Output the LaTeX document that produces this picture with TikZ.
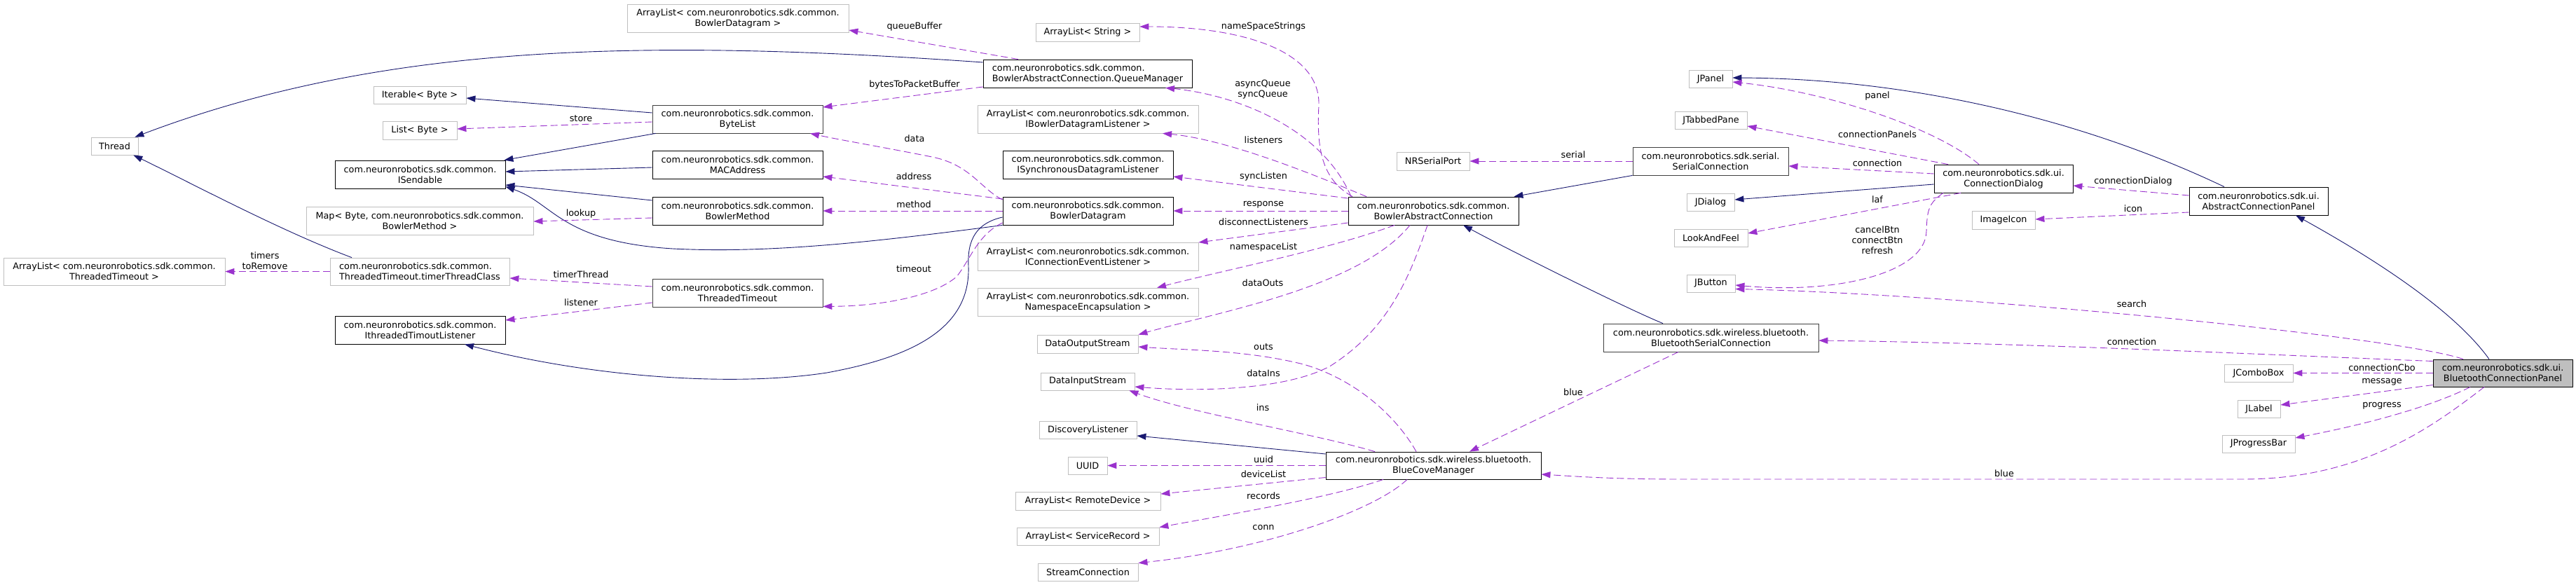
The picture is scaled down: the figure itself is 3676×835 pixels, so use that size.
\documentclass[tikz,border=0pt]{standalone}
\usepackage{fontspec}
\setmainfont{DejaVu Sans}
\usetikzlibrary{arrows.meta}

\definecolor{inhcol}{RGB}{25,25,112}
\definecolor{usecol}{RGB}{154,50,205}
\definecolor{extcol}{RGB}{191,191,191}
\definecolor{doccol}{RGB}{64,64,64}
\newcommand{\dgfont}{\fontsize{12.8pt}{15pt}\selectfont}

\tikzset{
	cls/.style={draw=black,line width=0.8pt,fill=white,inner sep=0pt,align=center,font=\dgfont},
	clsg/.style={cls,draw=doccol},
	ext/.style={cls,draw=extcol},
	root/.style={cls,fill=extcol},
	box/.style 2 args={minimum width=#1pt,minimum height=#2pt},
	lbl/.style={inner sep=0pt,align=center,font=\dgfont},
	inh/.style={draw=inhcol,line width=0.9pt,-{Triangle[length=13pt,width=9pt]}},
	use/.style={draw=usecol,line width=0.9pt,dash pattern=on 10pt off 5pt,-{Triangle[length=13pt,width=9pt]}},
}

\begin{document}
\begin{tikzpicture}[x=1pt,y=-1pt]
	
	\fill[white] (0,0) rectangle (3676,835);
	\useasboundingbox (0,0) rectangle (3676,835);
	
	%%%%%%%%%%%%%%%%%%%%%%%%%%%%%%%%%%%%%%%%%%%%%%%%%%%%%%
	
	\node [ext,box={67}{25}] (thread) at (163.5,208.5) {Thread};
	\node [ext,box={316}{39}] (alTimeout) at (163,387.5) {ArrayList< com.neuronrobotics.sdk.common.\\ThreadedTimeout >};
	
	\node [ext,box={132}{25}] (iterable) at (599,135.5) {Iterable< Byte >};
	\node [ext,box={106}{26}] (listByte) at (599,186) {List< Byte >};
	\node [cls,box={243}{40}] (isendable) at (599.5,249) {com.neuronrobotics.sdk.common.\\ISendable};
	\node [ext,box={324}{40}] (mapMethod) at (599,315) {Map< Byte, com.neuronrobotics.sdk.common.\\BowlerMethod >};
	\node [ext,box={256}{39},align=left] (timerClass) at (599,387.5) {com.neuronrobotics.sdk.common.\\ThreadedTimeout.timerThreadClass};
	\node [cls,box={243}{40}] (itimeoutListener) at (599.5,471) {com.neuronrobotics.sdk.common.\\IthreadedTimoutListener};
	
	\node [ext,box={316}{40}] (alDatagram) at (1053,26) {ArrayList< com.neuronrobotics.sdk.common.\\BowlerDatagram >};
	\node [clsg,box={243}{40}] (bytelist) at (1052.5,170) {com.neuronrobotics.sdk.common.\\ByteList};
	\node [cls,box={243}{40}] (macaddr) at (1052.5,235) {com.neuronrobotics.sdk.common.\\MACAddress};
	\node [cls,box={243}{40}] (bmethod) at (1052.5,301) {com.neuronrobotics.sdk.common.\\BowlerMethod};
	\node [clsg,box={243}{40}] (ttimeout) at (1052.5,418) {com.neuronrobotics.sdk.common.\\ThreadedTimeout};
	
	%%%%%%%%%%%%%%%%%%%%%%%%%%%%%%%%%%%%%%%%%%%%%%%%%%%%%%
	
	\node [ext,box={148}{26}] (alString) at (1552,46) {ArrayList< String >};
	\node [cls,box={298}{40},align=left] (qmgr) at (1552,105) {com.neuronrobotics.sdk.common.\\BowlerAbstractConnection.QueueManager};
	\node [ext,box={315}{40}] (alDgListener) at (1552.5,170) {ArrayList< com.neuronrobotics.sdk.common.\\IBowlerDatagramListener >};
	\node [cls,box={243}{40}] (isyncListener) at (1552.5,235) {com.neuronrobotics.sdk.common.\\ISynchronousDatagramListener};
	\node [cls,box={243}{40}] (bdatagram) at (1552.5,301) {com.neuronrobotics.sdk.common.\\BowlerDatagram};
	\node [ext,box={315}{40}] (alConnListener) at (1552.5,366) {ArrayList< com.neuronrobotics.sdk.common.\\IConnectionEventListener >};
	\node [ext,box={315}{40}] (alNamespace) at (1552.5,431) {ArrayList< com.neuronrobotics.sdk.common.\\NamespaceEncapsulation >};
	\node [ext,box={144}{26}] (dataOut) at (1552,491) {DataOutputStream};
	\node [ext,box={134}{25}] (dataIn) at (1552,544.5) {DataInputStream};
	\node [ext,box={139}{25}] (discovery) at (1552.5,613.5) {DiscoveryListener};
	\node [ext,box={56}{25}] (uuid) at (1552,664.5) {UUID};
	\node [ext,box={207}{26}] (alRemote) at (1552.5,715) {ArrayList< RemoteDevice >};
	\node [ext,box={203}{25}] (alService) at (1552.5,765.5) {ArrayList< ServiceRecord >};
	\node [ext,box={143}{25}] (streamConn) at (1552.5,816.5) {StreamConnection};
	
	%%%%%%%%%%%%%%%%%%%%%%%%%%%%%%%%%%%%%%%%%%%%%%%%%%%%%%
	
	\node [ext,box={104}{26}] (nrSerial) at (2045,230) {NRSerialPort};
	\node [cls,box={243}{40}] (bac) at (2045.5,301) {com.neuronrobotics.sdk.common.\\BowlerAbstractConnection};
	\node [cls,box={307}{39}] (bcm) at (2045.5,664.5) {com.neuronrobotics.sdk.wireless.bluetooth.\\BlueCoveManager};
	
	\node [ext,box={62}{25}] (jpanel) at (2441,112.5) {JPanel};
	\node [ext,box={103}{25}] (jtabbed) at (2441.5,171.5) {JTabbedPane};
	\node [clsg,box={222}{40}] (serialConn) at (2441,230) {com.neuronrobotics.sdk.serial.\\SerialConnection};
	\node [ext,box={68}{25}] (jdialog) at (2441,288.5) {JDialog};
	\node [ext,box={105}{25}] (laf) at (2441.5,339.5) {LookAndFeel};
	\node [ext,box={69}{25}] (jbutton) at (2441.5,404.5) {JButton};
	\node [clsg,box={307}{40}] (btSerialConn) at (2441.5,482) {com.neuronrobotics.sdk.wireless.bluetooth.\\BluetoothSerialConnection};
	
	\node [cls,box={198}{40}] (connDialog) at (2859,255) {com.neuronrobotics.sdk.ui.\\ConnectionDialog};
	\node [ext,box={90}{26}] (imageIcon) at (2859,314) {ImageIcon};
	
	\node [cls,box={198}{40}] (acPanel) at (3223,287) {com.neuronrobotics.sdk.ui.\\AbstractConnectionPanel};
	\node [ext,box={98}{25}] (jcombo) at (3223,532.5) {JComboBox};
	\node [ext,box={61}{25}] (jlabel) at (3223.5,583.5) {JLabel};
	\node [ext,box={104}{25}] (jprogress) at (3223,633.5) {JProgressBar};
	
	\node [root,box={199}{39}] (btPanel) at (3571.5,532.5) {com.neuronrobotics.sdk.ui.\\BluetoothConnectionPanel};
	
	%%%%%%%%%%%%%%%%%%%%%%%%%%%%%%%%%%%%%%%%%%%%%%%%%%%%%%
	% inheritance
	
	\draw [inh] ([yshift=16pt]qmgr.west) .. controls (903,54) and (540,64) .. ([xshift=-5pt]thread.north east);
	\draw [inh] ([xshift=-97pt]timerClass.north) .. controls (402,330) and (280,265) .. ([xshift=-7pt]thread.south east);
	\draw [inh] ([yshift=9pt]bytelist.west) -- ([yshift=-4.5pt]iterable.east);
	\draw [inh] ([xshift=5pt]bytelist.south west) -- ([xshift=-2pt]isendable.north east);
	\draw [inh] ([yshift=-4pt]macaddr.west) -- ([yshift=4pt]isendable.east);
	\draw [inh] ([yshift=15pt]bmethod.west) -- ([yshift=-15pt]isendable.east);
	\draw [inh] (bdatagram.south west) .. controls (1250,345) and (1100,362) .. (960,355)
	.. controls (800,345) and (790,290) .. ([yshift=3pt]isendable.south east);
	\draw [inh] ([yshift=-9pt]bdatagram.west) .. controls (1395,318) and (1380,340) .. (1382,380)
	.. controls (1385,470) and (1300,510) .. (1180,532)
	.. controls (1050,552) and (850,540) .. ([xshift=63.5pt]itimeoutListener.south);
	\draw [inh] ([yshift=16.5pt]bcm.west) -- ([yshift=-8.5pt]discovery.east);
	\draw [inh] (serialConn.south west) -- ([xshift=-7pt]bac.north east);
	\draw [inh] ([xshift=-68.5pt]btSerialConn.north) .. controls (2320,440) and (2150,355) .. ([xshift=42.5pt]bac.south);
	\draw [inh] ([yshift=-8pt]connDialog.west) -- ([yshift=3.5pt]jdialog.east);
	\draw [inh] ([xshift=-49pt]acPanel.north) .. controls (2950,160) and (2700,112) .. ([yshift=1.5pt]jpanel.east);
	\draw [inh] ([xshift=-19.5pt]btPanel.north) .. controls (3500,440) and (3380,365) .. ([xshift=53pt]acPanel.south);
	
	%%%%%%%%%%%%%%%%%%%%%%%%%%%%%%%%%%%%%%%%%%%%%%%%%%%%%%
	% usage
	
	\draw [use] ([yshift=-4pt]bytelist.west) -- ([yshift=2pt]listByte.east);
	\draw [use] ([yshift=-10pt]bmethod.west) -- ([yshift=-1pt]mapMethod.east);
	\draw [use] ([yshift=-14pt]ttimeout.west) -- ([yshift=14pt]itimeoutListener.east);
	\draw [use] ([yshift=9pt]ttimeout.west) -- ([yshift=-9.5pt]timerClass.east);
	\draw [use] (timerClass.west) -- (alTimeout.east);
	\draw [use] ([xshift=-99pt]qmgr.north) -- ([yshift=-17pt]alDatagram.east);
	\draw [use] ([yshift=-19pt]qmgr.west) -- ([yshift=17pt]bytelist.east);
	\draw [use] ([yshift=17pt]bdatagram.west) -- ([yshift=-17pt]macaddr.east);
	\draw [use] (bdatagram.west) -- (bmethod.east);
	\draw [use] ([yshift=16pt]bdatagram.west) .. controls (1400,270) and (1385,235) .. (1330,224)
	.. controls (1260,210) and (1200,200) .. ([xshift=103.5pt]bytelist.south);
	\draw [use] ([yshift=-17pt]bdatagram.west) .. controls (1395,335) and (1385,370) .. (1365,395)
	.. controls (1330,425) and (1250,437) .. ([yshift=1pt]ttimeout.south east);
	%
	\draw [use] ([xshift=-115.5pt]bac.north) .. controls (1890,258) and (1878,220) .. (1882,150)
	.. controls (1884,70) and (1767,38) .. ([yshift=8pt]alString.east);
	\draw [use] ([xshift=-117.5pt]bac.north) .. controls (1885,180) and (1760,135) .. ([xshift=111pt]qmgr.south);
	\draw [use] ([xshift=-95.5pt]bac.north) .. controls (1900,260) and (1760,200) .. ([xshift=106.5pt]alDgListener.south);
	\draw [use] ([yshift=18pt]bac.west) -- ([yshift=-17pt]isyncListener.east);
	\draw [use] (bac.west) -- (bdatagram.east);
	\draw [use] ([yshift=-17pt]bac.west) -- ([yshift=20pt]alConnListener.east);
	\draw [use] ([xshift=-55.5pt]bac.south) .. controls (1900,355) and (1750,385) .. ([xshift=98.5pt]alNamespace.north);
	\draw [use] ([xshift=-33.5pt]bac.south) .. controls (1940,410) and (1740,445) .. (dataOut.north east);
	\draw [use] ([xshift=-8.5pt]bac.south) .. controls (2010,400) and (1980,470) .. (1899,522)
	.. controls (1840,555) and (1720,560) .. ([yshift=-7.5pt]dataIn.east);
	%
	\draw [use] ([xshift=-24.5pt]bcm.north) .. controls (1990,590) and (1930,540) .. (1860,520)
	.. controls (1780,500) and (1700,500) .. ([yshift=-4pt]dataOut.east);
	\draw [use] ([xshift=-83.5pt]bcm.north) .. controls (1880,620) and (1700,590) .. ([xshift=-8pt]dataIn.south east);
	\draw [use] (bcm.west) -- (uuid.east);
	\draw [use] ([yshift=-17pt]bcm.west) -- ([yshift=10pt]alRemote.east);
	\draw [use] ([xshift=-71.5pt]bcm.south) .. controls (1900,710) and (1750,735) .. (alService.north east);
	\draw [use] ([xshift=-37.5pt]bcm.south) .. controls (1960,730) and (1800,785) .. (streamConn.north east);
	%
	\draw [use] (serialConn.west) -- (nrSerial.east);
	\draw [use] ([xshift=-46.5pt]btSerialConn.south) -- ([xshift=51.5pt]bcm.north);
	%
	\draw [use] ([xshift=-35pt]connDialog.north) .. controls (2760,180) and (2600,130) .. ([yshift=-4.5pt]jpanel.east);
	\draw [use] ([xshift=-79pt]connDialog.north) -- ([yshift=-8.5pt]jtabbed.east);
	\draw [use] ([yshift=7pt]connDialog.west) -- ([yshift=-7pt]serialConn.east);
	\draw [use] ([xshift=-61pt]connDialog.south) -- ([yshift=6.5pt]laf.east);
	\draw [use] ([xshift=-86pt]connDialog.south) .. controls (2752,290) and (2750,300) .. (2749,330)
	.. controls (2748,390) and (2620,420) .. ([yshift=-2.5pt]jbutton.east);
	%
	\draw [use] ([yshift=8pt]acPanel.west) -- ([yshift=-10pt]connDialog.east);
	\draw [use] ([yshift=-16pt]acPanel.west) -- ([yshift=1pt]imageIcon.east);
	%
	\draw [use] ([xshift=-56.5pt]btPanel.north) .. controls (3420,480) and (2800,420) .. ([yshift=-8pt]jbutton.east);
	\draw [use] ([yshift=17pt]btPanel.west) .. controls (3200,505) and (2900,490) .. ([yshift=-4pt]btSerialConn.east);
	\draw [use] (btPanel.west) -- (jcombo.east);
	\draw [use] ([yshift=-17pt]btPanel.west) -- ([yshift=5.5pt]jlabel.east);
	\draw [use] ([xshift=-46.5pt]btPanel.south) .. controls (3470,580) and (3380,605) .. ([yshift=8.5pt]jprogress.east);
	\draw [use] ([xshift=-26.5pt]btPanel.south) .. controls (3470,610) and (3370,684) .. (3200,684) -- (2400,684)
	.. controls (2300,684) and (2250,680) .. ([yshift=-12.5pt]bcm.east);
	
	%%%%%%%%%%%%%%%%%%%%%%%%%%%%%%%%%%%%%%%%%%%%%%%%%%%%%%
	% edge labels
	
	\node [lbl] (l-timers) at (378,372) {timers\\toRemove};
	\node [lbl] (l-store) at (829,169) {store};
	\node [lbl] (l-lookup) at (829,305) {lookup};
	\node [lbl] (l-timerthread) at (829,392) {timerThread};
	\node [lbl] (l-listener) at (829,432) {listener};
	\node [lbl] (l-queuebuffer) at (1305,38) {queueBuffer};
	\node [lbl] (l-bytesto) at (1305,121) {bytesToPacketBuffer};
	\node [lbl] (l-data) at (1305,198) {data};
	\node [lbl] (l-address) at (1304,252) {address};
	\node [lbl] (l-method) at (1304,292) {method};
	\node [lbl] (l-timeout) at (1304,384) {timeout};
	\node [lbl] (l-namespacestrings) at (1803,38) {nameSpaceStrings};
	\node [lbl] (l-queues) at (1802,128) {asyncQueue\\syncQueue};
	\node [lbl] (l-listeners) at (1803,200) {listeners};
	\node [lbl] (l-synclisten) at (1803,252) {syncListen};
	\node [lbl] (l-response) at (1803,292) {response};
	\node [lbl] (l-disconnect) at (1803,317) {disconnectListeners};
	\node [lbl] (l-namespacelist) at (1803,353) {namespaceList};
	\node [lbl] (l-dataouts) at (1802,404) {dataOuts};
	\node [lbl] (l-outs) at (1803,495) {outs};
	\node [lbl] (l-datains) at (1803,533) {dataIns};
	\node [lbl] (l-ins) at (1802,582) {ins};
	\node [lbl] (l-uuid) at (1803,656) {uuid};
	\node [lbl] (l-devicelist) at (1803,677) {deviceList};
	\node [lbl] (l-records) at (1803,708) {records};
	\node [lbl] (l-conn) at (1803,753) {conn};
	\node [lbl] (l-serial) at (2245,221) {serial};
	\node [lbl] (l-blue-a) at (2245,560) {blue};
	\node [lbl] (l-panel) at (2679,137) {panel};
	\node [lbl] (l-connpanels) at (2679,192) {connectionPanels};
	\node [lbl] (l-connection-a) at (2679,233) {connection};
	\node [lbl] (l-laf) at (2679,285) {laf};
	\node [lbl] (l-buttons) at (2679,343) {cancelBtn\\connectBtn\\refresh};
	\node [lbl] (l-conndialog) at (3044,259) {connectionDialog};
	\node [lbl] (l-icon) at (3044,298) {icon};
	\node [lbl] (l-search) at (3042,434) {search};
	\node [lbl] (l-connection-b) at (3042,488) {connection};
	\node [lbl] (l-blue-b) at (2860,676) {blue};
	\node [lbl] (l-combo) at (3399,525) {connectionCbo};
	\node [lbl] (l-message) at (3399,545) {message};
	\node [lbl] (l-progress) at (3399,579) {progress};
	
\end{tikzpicture}
\end{document}
